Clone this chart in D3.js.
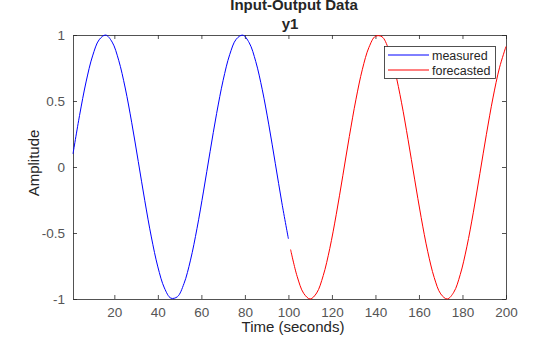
<!DOCTYPE html>
<html><head><meta charset="utf-8">
<script src="https://cdn.jsdelivr.net/npm/d3@7/dist/d3.min.js"></script>
<style>body{margin:0;background:#fff;}svg{display:block;font-family:"Liberation Sans",Arial,sans-serif;}</style>
</head><body><svg id="c" width="560" height="337"></svg>
<script>
const measuredTime = [1,4,7,10,13,16,19,22,25,28,31,34,37,40,43,46,49,52,55,58,61,64,67,70,73,76,79,82,85,88,91,94,97,100];
const measuredValues = [0.0998,0.3894,0.6442,0.8415,0.9636,0.9996,0.9463,0.8085,0.5985,0.3350,0.0416,-0.2555,-0.5298,-0.7568,-0.9162,-0.9937,-0.9825,-0.8835,-0.7055,-0.4646,-0.1822,0.1165,0.4048,0.6570,0.8505,0.9679,0.9989,0.9407,0.7985,0.5849,0.3191,0.0248,-0.2718,-0.5440];
const forecastTime = [101,104,107,110,113,116,119,122,125,128,131,134,137,140,143,146,149,152,155,158,161,164,167,170,173,176,179,182,185,188,191,194,197,200];
const forecastValues = [-0.6251,-0.8278,-0.9566,-1.0000,-0.9541,-0.8228,-0.6182,-0.3583,-0.0663,0.2315,0.5087,0.7404,0.9059,0.9906,0.9868,0.8948,0.7229,0.4865,0.2065,-0.0919,-0.3821,-0.6381,-0.8371,-0.9614,-0.9998,-0.9488,-0.8132,-0.6049,-0.3425,-0.0496,0.2478,0.5230,0.7515,0.9129];
const xTicks = [20,40,60,80,100,120,140,160,180,200];
const yTicks = [-1,-0.5,0,0.5,1];
const seriesNames = ["measured","forecasted"];
const seriesColors = ["#0000ff","#ff0000"];

const svg = d3.select("#c");
const L=73, R=506, T=35, B=299;
const x = d3.scaleLinear().domain([1,200]).range([L,R]);
const y = d3.scaleLinear().domain([-1,1]).range([B,T]);
const axisColor = "#262626", tickText = "#555555";

function styleAxis(g, showText){
  g.select(".domain").attr("stroke",axisColor).attr("stroke-width",0.8);
  g.selectAll(".tick line").attr("stroke",axisColor).attr("stroke-width",0.8);
  g.selectAll(".tick text").attr("fill",tickText).attr("font-size","13.5px").attr("font-family","Liberation Sans,Arial,sans-serif");
  if(!showText) g.selectAll(".tick text").remove();
}
const fmtY = d => d===0?"0":String(d);
styleAxis(svg.append("g").attr("transform",`translate(0,${B})`).call(d3.axisBottom(x).tickValues(xTicks).tickSizeInner(-4).tickSizeOuter(0).tickPadding(8)), true);
styleAxis(svg.append("g").attr("transform",`translate(0,${T})`).call(d3.axisTop(x).tickValues(xTicks).tickSizeInner(-4).tickSizeOuter(0)), false);
styleAxis(svg.append("g").attr("transform",`translate(${L},0)`).call(d3.axisLeft(y).tickValues(yTicks).tickFormat(fmtY).tickSizeInner(-4).tickSizeOuter(0).tickPadding(8)), true);
styleAxis(svg.append("g").attr("transform",`translate(${R},0)`).call(d3.axisRight(y).tickValues(yTicks).tickSizeInner(-4).tickSizeOuter(0)), false);

const line = d3.line().x(d=>x(d[0])).y(d=>y(d[1])).curve(d3.curveCatmullRom.alpha(0.5));
const series = [measuredTime.map((t,i)=>[t,measuredValues[i]]), forecastTime.map((t,i)=>[t,forecastValues[i]])];
series.forEach((s,i)=>{
  svg.append("path").datum(s).attr("d",line).attr("fill","none").attr("stroke",seriesColors[i]).attr("stroke-width",1);
});

svg.append("text").attr("x",294).attr("y",9.5).attr("text-anchor","middle").attr("font-weight","bold").attr("font-size","15px").attr("fill","#262626").text("Input-Output Data");
svg.append("text").attr("x",290).attr("y",28.5).attr("text-anchor","middle").attr("font-weight","bold").attr("font-size","15px").attr("fill","#262626").text("y1");
svg.append("text").attr("x",293).attr("y",332).attr("text-anchor","middle").attr("font-size","15px").attr("fill","#262626").text("Time (seconds)");
svg.append("text").attr("transform","translate(39,163) rotate(-90)").attr("text-anchor","middle").attr("font-size","15px").attr("fill","#262626").text("Amplitude");

const lg = svg.append("g");
lg.append("rect").attr("x",384.5).attr("y",46.5).attr("width",111).attr("height",32).attr("fill","#fff").attr("stroke",axisColor).attr("stroke-width",0.8);
seriesNames.forEach((n,i)=>{
  const yy = 55 + i*15;
  lg.append("line").attr("x1",388).attr("x2",429).attr("y1",yy).attr("y2",yy).attr("stroke",seriesColors[i]).attr("stroke-width",1);
  lg.append("text").attr("x",432).attr("y",yy+4.5).attr("font-size","12.5px").attr("fill","#262626").text(n);
});
</script></body></html>
